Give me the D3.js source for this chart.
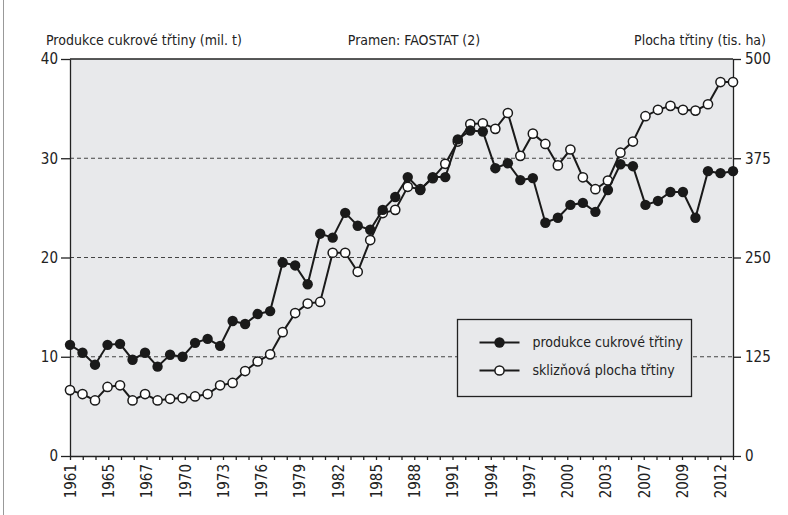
<!DOCTYPE html>
<html>
<head>
<meta charset="utf-8">
<script src="https://cdn.jsdelivr.net/npm/d3@7"></script>
<style>
    body { margin: 0; background: #fff; }
    text { font-family: "Liberation Sans Narrow", "DejaVu Sans Condensed", "Arial Narrow", sans-serif; fill: #222; }
</style>
</head>
<body>
<div id="chart-area"></div>
<script>
// Data (FAOSTAT)
let years = [1961, 1962, 1963, 1964, 1965, 1966, 1967, 1968, 1969, 1970,
    1971, 1972, 1973, 1974, 1975, 1976, 1977, 1978, 1979, 1980,
    1981, 1982, 1983, 1984, 1985, 1986, 1987, 1988, 1989, 1990,
    1991, 1992, 1993, 1994, 1995, 1996, 1997, 1998, 1999, 2000,
    2001, 2002, 2003, 2004, 2005, 2006, 2007, 2008, 2009, 2010,
    2011, 2012, 2013, 2014];

// produkce cukrové třtiny (mil. t)
let production = [11.2, 10.4, 9.2, 11.2, 11.3, 9.7, 10.4, 9.0, 10.2, 10.0,
    11.4, 11.8, 11.1, 13.6, 13.3, 14.3, 14.6, 19.5, 19.2, 17.3,
    22.4, 22.0, 24.5, 23.2, 22.8, 24.8, 26.1, 28.1, 26.8, 28.1,
    28.1, 31.9, 32.8, 32.7, 29.0, 29.5, 27.8, 28.0, 23.5, 24.0,
    25.3, 25.5, 24.6, 26.8, 29.4, 29.2, 25.3, 25.7, 26.6, 26.6,
    24.0, 28.7, 28.5, 28.7];

// sklizňová plocha třtiny (tis. ha)
let area = [83, 78, 70, 87, 89, 70, 78, 70, 72, 73,
    75, 78, 89, 92, 107, 119, 128, 156, 180, 192,
    194, 256, 256, 232, 272, 306, 310, 339, 336, 350,
    368, 396, 418, 419, 412, 432, 378, 406, 393, 366,
    386, 351, 336, 347, 382, 396, 428, 436, 441, 436,
    435, 443, 471, 471];

let xLabels = ["1961", "1965", "1967", "1970", "1973", "1976", "1979", "1982", "1985",
    "1988", "1991", "1994", "1997", "2000", "2003", "2007", "2009", "2012"];
let leftTicks = [0, 10, 20, 30, 40];
let rightTicks = [0, 125, 250, 375, 500];
let gridTicks = [10, 20, 30];
let seriesNames = ["produkce cukrové třtiny", "sklizňová plocha třtiny"];

let margin = {left: 70, right: 55, top: 59, bottom: 59};

let width = 788 - margin.left - margin.right,
    height = 515 - margin.top - margin.bottom;

let root = d3.select("#chart-area")
    .append("svg")
    .attr("width", 788)
    .attr("height", 515);

// Outer frame
root.append("line")
    .attr("x1", 3.5).attr("x2", 3.5)
    .attr("y1", 0).attr("y2", 515)
    .attr("stroke", "#999");

// Header texts
root.append("text")
    .attr("x", 46).attr("y", 45)
    .attr("font-size", "14px")
    .text("Produkce cukrové třtiny (mil. t)");

root.append("text")
    .attr("x", 414).attr("y", 45)
    .attr("font-size", "14px")
    .attr("text-anchor", "middle")
    .text("Pramen: FAOSTAT (2)");

root.append("text")
    .attr("x", 766).attr("y", 45)
    .attr("font-size", "14px")
    .attr("text-anchor", "end")
    .text("Plocha třtiny (tis. ha)");

let svg = root.append("g")
    .attr("transform", "translate(" + margin.left + ", " + margin.top + ")");

// Scales
let x = d3.scaleLinear()
    .domain([years[0], years[years.length - 1]])
    .range([0, width]);

let xTick = d3.scaleLinear()
    .domain([0, 52])
    .range([0, width]);

let yLeft = d3.scaleLinear()
    .domain([0, 40])
    .range([height, 0]);

let yRight = d3.scaleLinear()
    .domain([0, 500])
    .range([height, 0]);

// Plot background
svg.append("rect")
    .attr("width", width)
    .attr("height", height)
    .attr("fill", "#e8e9eb");

// Grid
svg.selectAll(".grid")
    .data(gridTicks)
    .enter()
    .append("line")
    .attr("class", "grid")
    .attr("x1", 0)
    .attr("x2", width)
    .attr("y1", function (d) { return yLeft(d); })
    .attr("y2", function (d) { return yLeft(d); })
    .attr("stroke", "#444")
    .attr("stroke-dasharray", "4,3");

// Top border
svg.append("line")
    .attr("x1", 0).attr("x2", width)
    .attr("y1", 0).attr("y2", 0)
    .attr("stroke", "#222")
    .attr("stroke-width", 1.3);

// Left axis
let leftAxis = svg.append("g")
    .call(d3.axisLeft(yLeft).tickValues(leftTicks).tickSize(9).tickSizeOuter(0).tickPadding(3));

// Right axis
let rightAxis = svg.append("g")
    .attr("transform", "translate(" + width + ",0)")
    .call(d3.axisRight(yRight).tickValues(rightTicks).tickSize(8).tickSizeOuter(0).tickPadding(4));

// Bottom axis
let tickIdx = d3.range(53);
let bottomAxis = svg.append("g")
    .attr("transform", "translate(0," + height + ")")
    .call(d3.axisBottom(xTick)
        .tickValues(tickIdx)
        .tickSize(4)
        .tickSizeOuter(0)
        .tickFormat(function (i) {
            return i % 3 === 0 ? xLabels[i / 3] : "";
        }));

bottomAxis.selectAll("text")
    .attr("y", 0)
    .attr("x", -8)
    .attr("dy", "0.35em")
    .attr("transform", "rotate(-90)")
    .style("text-anchor", "end")
    .attr("font-size", "15px");

[leftAxis, rightAxis].forEach(function (a) {
    a.selectAll("text").attr("font-size", "15px");
});

[leftAxis, rightAxis, bottomAxis].forEach(function (a) {
    a.attr("font-family", null);
    a.selectAll("path, line").attr("stroke", "#222").attr("stroke-width", 1.3);
    a.selectAll("text").attr("fill", "#222");
});

// Lines
let lineArea = d3.line()
    .x(function (d, i) { return x(years[i]); })
    .y(function (d) { return yRight(d); });

let lineProd = d3.line()
    .x(function (d, i) { return x(years[i]); })
    .y(function (d) { return yLeft(d); });

svg.append("path")
    .datum(area)
    .attr("d", lineArea)
    .attr("fill", "none")
    .attr("stroke", "#1a1a1a")
    .attr("stroke-width", 2);

svg.selectAll(".dot-area")
    .data(area)
    .enter()
    .append("circle")
    .attr("class", "dot-area")
    .attr("cx", function (d, i) { return x(years[i]); })
    .attr("cy", function (d) { return yRight(d); })
    .attr("r", 4.6)
    .attr("fill", "#fff")
    .attr("stroke", "#1a1a1a")
    .attr("stroke-width", 1.5);

svg.append("path")
    .datum(production)
    .attr("d", lineProd)
    .attr("fill", "none")
    .attr("stroke", "#1a1a1a")
    .attr("stroke-width", 2);

svg.selectAll(".dot-prod")
    .data(production)
    .enter()
    .append("circle")
    .attr("class", "dot-prod")
    .attr("cx", function (d, i) { return x(years[i]); })
    .attr("cy", function (d) { return yLeft(d); })
    .attr("r", 5.2)
    .attr("fill", "#1a1a1a");

// Legend
let legend = svg.append("g")
    .attr("transform", "translate(387.5, 260.5)");

legend.append("rect")
    .attr("width", 234)
    .attr("height", 77)
    .attr("fill", "#e8e9eb")
    .attr("stroke", "#222")
    .attr("stroke-width", 1.3);

seriesNames.forEach(function (name, i) {
    let row = legend.append("g")
        .attr("transform", "translate(0," + (23 + i * 28) + ")");
    row.append("line")
        .attr("x1", 22).attr("x2", 62)
        .attr("stroke", "#1a1a1a")
        .attr("stroke-width", 2);
    row.append("circle")
        .attr("cx", 42)
        .attr("r", i === 0 ? 5.2 : 4.6)
        .attr("fill", i === 0 ? "#1a1a1a" : "#fff")
        .attr("stroke", "#1a1a1a")
        .attr("stroke-width", i === 0 ? 0 : 1.5);
    row.append("text")
        .attr("x", 75)
        .attr("dy", "0.35em")
        .attr("font-size", "14px")
        .text(name);
});
</script>
</body>
</html>
